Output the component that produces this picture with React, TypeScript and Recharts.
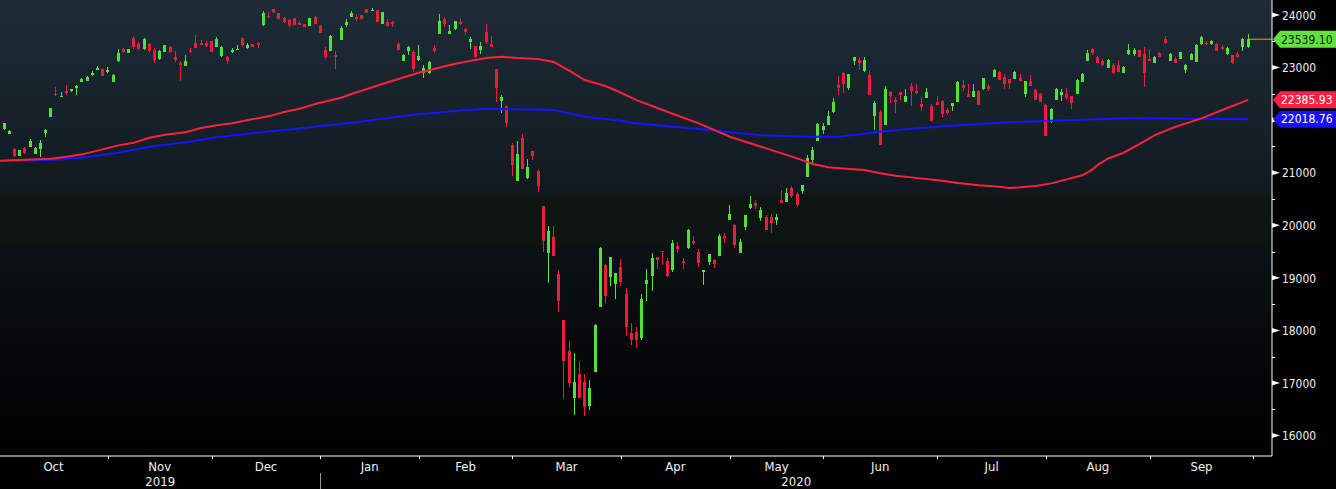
import React from 'react'
import { ComposedChart, Bar, Line, XAxis, YAxis, CartesianGrid, ReferenceLine } from 'recharts'

// Nikkei 225 daily candles, 30 Sep 2019 .. 29 Sep 2020 (index = trading day)
const open = [
  21812, 21831, 21742, 21444, 21323, 21476, 21495, 21361, 21456, 21755, 22065, 22500, 22452, 22560, 22547, 22624, 22731, 22744, 22885, 22960,
  22966, 22935, 22731, 23125, 23347, 23283, 23569, 23448, 23347, 23442, 23334, 23156, 23302, 23391, 23194, 23093, 23036, 23321, 23474, 23474,
  23474, 23505, 23397, 23220, 23201, 23316, 23355, 23556, 23378, 23442, 23467, 23810, 23987, 24108, 24032, 23937, 23905, 23943, 23846, 23829,
  23797, 23956, 23791, 23334, 23321, 23239, 23524, 23803, 23968, 23956, 23994, 24114, 24090, 24095, 23835, 23867, 23873, 23448, 23125, 23315,
  23302, 23144, 22903, 22890, 23378, 23645, 23918, 23645, 23727, 23867, 23734, 23486, 23410, 23334, 23677, 23448, 22972, 22370, 22268, 21533,
  20848, 21659, 20898, 21412, 21038, 20365, 19477, 19769, 19071, 18196, 17606, 16718, 17169, 17016, 16566, 17213, 18450, 19243, 19021, 18887,
  19205, 18697, 17949, 17968, 17853, 18887, 19033, 19395, 19512, 19319, 19147, 19604, 19319, 19566, 19699, 19490, 19110, 19300, 19338, 19414,
  19794, 20099, 20004, 19471, 19966, 20327, 20422, 20137, 20156, 20156, 20099, 20480, 20442, 20708, 20594, 20651, 20924, 21241, 21609, 21812,
  21907, 22154, 22668, 22896, 22611, 23125, 23144, 22934, 22858, 22078, 22154, 21907, 22535, 22383, 22535, 22344, 22649, 22554, 22306, 22421,
  22268, 22344, 22363, 22192, 22268, 22344, 22668, 22497, 22440, 22554, 22592, 22649, 22820, 22915, 22820, 22782, 22782, 22801, 22497, 22744,
  22573, 22497, 22287, 21964, 22383, 22478, 22497, 22459, 22497, 22731, 23125, 23347, 23207, 23118, 22998, 23042, 23042, 22903, 23252, 23252,
  23334, 23252, 23156, 23093, 23283, 23543, 23131, 23156, 23169, 22954, 23144, 23112, 23442, 23474, 23442, 23442, 23397, 23252, 23239, 23258,
  23397, 23397,
]
const high = [
  21830, 21950, 21810, 21463, 21440, 21485, 21640, 21485, 21621, 21825, 22240, 22624, 22535, 22668, 22595, 22668, 22801, 22835, 22928, 23030,
  22975, 23011, 22877, 23347, 23366, 23355, 23600, 23480, 23556, 23467, 23366, 23334, 23430, 23410, 23315, 23125, 23239, 23366, 23619, 23518,
  23505, 23512, 23581, 23405, 23226, 23366, 23423, 23569, 23461, 23455, 23486, 24076, 24051, 24121, 24040, 23962, 23918, 23950, 23879, 23835,
  23945, 23975, 23800, 23385, 23610, 23315, 23791, 23924, 24076, 24013, 24000, 24120, 24133, 24102, 24064, 23918, 23892, 23486, 23258, 23410,
  23334, 23429, 23049, 23131, 23429, 24019, 23956, 23810, 23886, 23918, 23753, 23588, 23417, 23486, 23829, 23600, 22980, 22478, 22287, 21558,
  21602, 21735, 21260, 21420, 21063, 20372, 19985, 19985, 19147, 18205, 17796, 17568, 17416, 17169, 17054, 18120, 19585, 19262, 19402, 19097,
  19357, 18805, 18139, 18057, 18691, 19166, 19471, 19405, 19520, 19376, 19718, 19680, 19376, 19928, 19794, 19547, 19155, 19460, 19357, 19832,
  19852, 20384, 20023, 19737, 20200, 20556, 20480, 20346, 20194, 20213, 20213, 20670, 20708, 20746, 20632, 20772, 21336, 21488, 21945, 21945,
  22173, 22421, 22839, 22915, 22884, 23208, 23201, 23201, 22953, 22363, 22192, 22649, 22554, 22440, 22542, 22592, 22706, 22687, 22440, 22611,
  22306, 22459, 22383, 22230, 22332, 22744, 22763, 22687, 22687, 22573, 22808, 22687, 22972, 22934, 22877, 22790, 22934, 22877, 22751, 22858,
  22592, 22516, 22306, 22230, 22611, 22592, 22611, 22466, 22782, 22903, 23334, 23366, 23214, 23156, 23163, 23093, 23144, 23024, 23448, 23366,
  23341, 23397, 23359, 23220, 23290, 23607, 23271, 23194, 23302, 23068, 23271, 23448, 23607, 23505, 23524, 23461, 23423, 23397, 23246, 23290,
  23556, 23638,
]
const low = [
  21745, 21820, 21735, 21304, 21315, 21365, 21490, 21355, 21304, 21685, 22055, 22465, 22446, 22484, 22540, 22484, 22725, 22738, 22846, 22955,
  22840, 22903, 22725, 23106, 23271, 23278, 23347, 23340, 23340, 23296, 23093, 23144, 23295, 23271, 23112, 22750, 23030, 23283, 23366, 23423,
  23391, 23295, 23390, 23207, 23074, 23283, 23353, 23385, 23359, 23385, 23378, 23791, 23949, 24032, 23925, 23848, 23778, 23810, 23803, 23772,
  23790, 23830, 23656, 23163, 23315, 22972, 23515, 23778, 23960, 23892, 23925, 24038, 24085, 23866, 23828, 23785, 23778, 23328, 23118, 23239,
  22922, 23131, 22808, 22883, 23271, 23638, 23778, 23638, 23720, 23803, 23619, 23353, 23175, 23258, 23448, 23385, 22351, 22142, 21875, 20943,
  20840, 21068, 20879, 21241, 20632, 19496, 18907, 19406, 18348, 16693, 16927, 16388, 16710, 16375, 16483, 17205, 18442, 18526, 18843, 18602,
  18849, 17898, 17727, 17670, 17820, 18564, 18754, 19166, 19243, 19025, 19110, 19471, 19166, 19558, 19623, 19205, 18862, 19243, 19186, 19406,
  19661, 20092, 19566, 19464, 19909, 20308, 20308, 20080, 19902, 19852, 20004, 20415, 20435, 20518, 20346, 20594, 20917, 21165, 21602, 21735,
  21900, 22135, 22478, 22516, 22573, 23048, 22953, 22915, 22470, 21812, 21518, 21900, 22325, 22135, 22383, 22337, 22268, 22497, 22173, 22414,
  21976, 22280, 22059, 22097, 22173, 22337, 22554, 22433, 22433, 22280, 22573, 22554, 22813, 22756, 22592, 22592, 22775, 22737, 22440, 22642,
  22376, 22337, 21690, 21945, 22376, 22363, 22383, 22211, 22490, 22724, 23118, 23239, 23086, 23035, 22991, 22883, 22908, 22890, 23245, 23226,
  23200, 22624, 23130, 23086, 23200, 23454, 23124, 23086, 23162, 22903, 23137, 23105, 23435, 23429, 23435, 23308, 23340, 23245, 23061, 23187,
  23315, 23366,
]
const close = [
  21761, 21939, 21799, 21323, 21431, 21374, 21609, 21476, 21571, 21818, 22230, 22480, 22462, 22509, 22585, 22649, 22776, 22827, 22895, 22998,
  22846, 22945, 22852, 23283, 23290, 23347, 23397, 23347, 23537, 23315, 23144, 23315, 23423, 23290, 23144, 23049, 23125, 23302, 23378, 23435,
  23410, 23302, 23550, 23397, 23125, 23326, 23362, 23435, 23423, 23397, 23435, 24032, 23956, 24063, 23930, 23867, 23810, 23816, 23836, 23778,
  23937, 23835, 23664, 23207, 23600, 23201, 23759, 23873, 24044, 23930, 23930, 24044, 24100, 23873, 24057, 23791, 23829, 23334, 23239, 23391,
  22966, 23220, 22985, 23106, 23315, 23879, 23822, 23689, 23879, 23822, 23677, 23543, 23207, 23410, 23480, 23391, 22617, 22440, 21951, 21152,
  21355, 21076, 21108, 21323, 20746, 19699, 19890, 19414, 18558, 17422, 17004, 17016, 16718, 16547, 16902, 18101, 19566, 18659, 19395, 19090,
  18919, 18069, 17815, 17815, 18596, 18957, 19376, 19338, 19500, 19033, 19661, 19547, 19281, 19909, 19661, 19281, 19147, 19452, 19262, 19794,
  19756, 20213, 19623, 19680, 20194, 20403, 20365, 20289, 19909, 20042, 20156, 20422, 20613, 20556, 20384, 20765, 21279, 21431, 21926, 21888,
  22078, 22344, 22611, 22687, 22877, 23201, 23087, 23144, 22478, 22325, 21526, 22592, 22459, 22344, 22478, 22459, 22554, 22516, 22249, 22535,
  21983, 22287, 22116, 22135, 22325, 22725, 22611, 22440, 22554, 22287, 22801, 22592, 22953, 22763, 22687, 22706, 22915, 22744, 22744, 22649,
  22383, 22344, 21697, 22211, 22592, 22535, 22421, 22325, 22763, 22877, 23271, 23271, 23093, 23042, 23144, 22890, 22915, 23017, 23334, 23334,
  23207, 22890, 23137, 23207, 23207, 23461, 23252, 23093, 23290, 23049, 23252, 23429, 23588, 23455, 23499, 23315, 23347, 23378, 23080, 23194,
  23537, 23539.1,
]

// moving averages: [trading day, value]
const maRedPts = [
  [0, 21227], [10, 21265], [13, 21303], [16, 21349], [20, 21444], [23, 21520], [26, 21570], [29, 21665], [32, 21722], [36, 21768],
  [39, 21850], [42, 21901], [45, 21939], [48, 22002], [52, 22072], [55, 22154], [58, 22217], [61, 22306], [66, 22426], [68, 22497],
  [75, 22719], [81, 22902], [88, 23073], [94, 23182], [97, 23206], [100, 23182], [104, 23163], [107, 23106], [110, 22940], [113, 22763],
  [117, 22649], [120, 22521], [123, 22380], [128, 22192], [135, 21939], [141, 21684], [147, 21494], [154, 21273], [157, 21165], [160, 21102],
  [164, 21069], [167, 21050], [170, 20988], [173, 20942], [176, 20911], [182, 20847], [185, 20803], [189, 20759], [193, 20733], [195, 20708],
  [197, 20721], [200, 20746], [203, 20797], [206, 20873], [209, 20950], [211, 21064], [212, 21150], [214, 21270], [217, 21380], [220, 21545],
  [223, 21716], [227, 21874], [232, 22034], [236, 22192], [241, 22385.93],
]
const maBluePts = [
  [0, 21227], [10, 21241], [16, 21284], [23, 21380], [29, 21494], [36, 21578], [42, 21673], [48, 21741], [55, 21812], [61, 21874],
  [68, 21950], [75, 22040], [81, 22110], [88, 22173], [94, 22217], [100, 22205], [107, 22192], [113, 22065], [120, 21989], [122, 21950],
  [128, 21893], [135, 21831], [141, 21768], [147, 21711], [154, 21688], [157, 21684], [162, 21684], [170, 21779], [176, 21836], [183, 21888],
  [189, 21926], [196, 21964], [203, 21989], [212, 22015], [220, 22040], [228, 22027], [241, 22018.76],
]

const monthNames = ['Oct', 'Nov', 'Dec', 'Jan', 'Feb', 'Mar', 'Apr', 'May', 'Jun', 'Jul', 'Aug', 'Sep']
// index of the last trading day before each month starts (Sep 30 2019 .. Sep 30 2020)
const monthEnds = [0, 21, 41, 62, 81, 99, 120, 141, 159, 181, 202, 222, 242]
const years = ['2019', '2020']
const yearEnd = 62

const lastClose = 23539.1
const maRedLast = 22385.93
const maBlueLast = 22018.76

const yMajor = [16000, 17000, 18000, 19000, 20000, 21000, 22000, 23000, 24000]
const yMinor = [16500, 17500, 18500, 19500, 20500, 21500, 22500, 23500]

const X_MIN = 0.18
const X_MAX = 245.6
const Y_MIN = 15611
const Y_MAX = 24285

const GREEN = '#52e13a'
const RED = '#ee1c3c'
const FONT = "'Liberation Sans Narrow', 'DejaVu Sans Condensed', 'Liberation Sans', sans-serif"

const redMap = new Map(maRedPts.map((p) => [p[0], p[1]]))
const blueMap = new Map(maBluePts.map((p) => [p[0], p[1]]))

const rows = open.map((o, i) => ({
  i,
  o,
  h: high[i],
  l: low[i],
  c: close[i],
  red: redMap.get(i),
  blue: blueMap.get(i),
}))

// x axis: month boundary ticks, month labels, year labels
const xTicks: number[] = []
const xInfo = new Map<number, { kind: string; label?: string; divider?: boolean }>()
monthEnds.forEach((e, k) => {
  if (e > X_MIN) {
    xTicks.push(e)
    xInfo.set(e, { kind: 'end', divider: e === yearEnd })
  }
  if (k < monthNames.length) {
    const mid = (e + monthEnds[k + 1]) / 2
    xTicks.push(mid)
    xInfo.set(mid, { kind: 'month', label: monthNames[k] })
  }
})
const yearBounds = [X_MIN, yearEnd, X_MAX]
years.forEach((yr, k) => {
  const mid = (yearBounds[k] + yearBounds[k + 1]) / 2
  xTicks.push(mid)
  xInfo.set(mid, { kind: 'year', label: yr })
})

const tags = [
  { v: lastClose, fill: '#62e03d', text: '#0b1a08' },
  { v: maRedLast, fill: '#ff1f47', text: '#ffffff' },
  { v: maBlueLast, fill: '#1a10ff', text: '#ffffff' },
]
const yTicks = [...yMajor, ...yMinor, ...tags.map((t) => t.v)]

function Candle(props: any) {
  const { x, y, width, height, payload } = props
  if (!payload || !isFinite(y) || !isFinite(height)) return null
  const { o, h, l, c } = payload
  const top = Math.min(y, y + height)
  const hh = Math.abs(height)
  const ppu = hh / (h - l)
  const cx = Math.floor(x + width / 2)
  const bTop = top + (h - Math.max(o, c)) * ppu
  const bBot = top + (h - Math.min(o, c)) * ppu
  const color = c >= o ? GREEN : RED
  return (
    <g shapeRendering="crispEdges">
      <rect x={cx} y={top} width={1} height={Math.max(1, hh)} fill={color} />
      <rect x={cx - 1} y={bTop} width={3} height={Math.max(1.5, bBot - bTop)} fill={color} />
    </g>
  )
}

function XTick(props: any) {
  const { x, y, payload } = props
  const t = xInfo.get(payload.value)
  if (!t) return null
  const px = Math.round(x) + 0.5
  if (t.kind === 'end') {
    return (
      <g>
        <line x1={px} x2={px} y1={y} y2={y + 3} stroke="#ffffff" />
        {t.divider && <line x1={px} x2={px} y1={y + 17} y2={y + 34} stroke="#9a9a9a" />}
      </g>
    )
  }
  return (
    <text
      x={x}
      y={t.kind === 'month' ? y + 10 : y + 25}
      dy="0.35em"
      textAnchor="middle"
      fill="#f0f0f0"
      fontSize={13}
      fontFamily={FONT}
    >
      {t.label}
    </text>
  )
}

function YTick(props: any) {
  const { x, y, payload } = props
  const v = payload.value
  const tag = tags.find((t) => t.v === v)
  if (tag) {
    const r = x + 64
    return (
      <g>
        <polygon
          points={`${x + 1},${y} ${x + 8},${y - 8.5} ${r},${y - 8.5} ${r},${y + 8.5} ${x + 8},${y + 8.5}`}
          fill={tag.fill}
        />
        <text x={x + 9} y={y} dy="0.36em" fill={tag.text} fontSize={12} fontFamily={FONT}>
          {v.toFixed(2)}
        </text>
      </g>
    )
  }
  const py = Math.round(y) + 0.5
  if (yMinor.includes(v)) {
    return <line x1={x} x2={x + 3} y1={py} y2={py} stroke="#ffffff" />
  }
  // the price tags sit on top of any label next to them
  const hidden = tags.some((t) => Math.abs(t.v - v) < 200)
  return (
    <g>
      <polygon points={`${x},${y - 2.5} ${x + 8},${y} ${x},${y + 2.5}`} fill="#ffffff" />
      {!hidden && (
        <text
          x={x + 10}
          y={y}
          dy="0.36em"
          fill="#f0f0f0"
          fontSize={13}
          fontFamily={FONT}
          textLength={34}
          lengthAdjust="spacingAndGlyphs"
        >
          {v}
        </text>
      )}
    </g>
  )
}

export default function App() {
  return (
    <div
      style={{
        position: 'absolute',
        left: 0,
        top: 0,
        width: 1336,
        height: 489,
        background: '#000000',
        fontFamily: FONT,
      }}
    >
      <svg width={0} height={0} style={{ position: 'absolute' }}>
        <defs>
          <linearGradient id="bgGrad" x1="0" y1="0" x2="0" y2="1">
            <stop offset="0" stopColor="#1d2c37" />
            <stop offset="0.2" stopColor="#18242c" />
            <stop offset="0.42" stopColor="#111920" />
            <stop offset="0.435" stopColor="#0f1612" />
            <stop offset="0.535" stopColor="#0e1412" />
            <stop offset="0.55" stopColor="#0b1114" />
            <stop offset="0.7" stopColor="#080c0f" />
            <stop offset="0.85" stopColor="#030506" />
            <stop offset="1" stopColor="#000000" />
          </linearGradient>
        </defs>
      </svg>
      <ComposedChart width={1336} height={489} data={rows} margin={{ top: 0, right: 0, bottom: 0, left: 0 }}>
        <CartesianGrid horizontal={false} vertical={false} fill="url(#bgGrad)" stroke="none" />
        <XAxis
          dataKey="i"
          type="number"
          domain={[X_MIN, X_MAX]}
          allowDataOverflow
          ticks={xTicks}
          interval={0}
          height={33}
          tickSize={0}
          tickMargin={0}
          tickLine={false}
          axisLine={{ stroke: '#ffffff' }}
          tick={<XTick />}
        />
        <YAxis
          orientation="right"
          type="number"
          domain={[Y_MIN, Y_MAX]}
          allowDataOverflow
          ticks={yTicks}
          interval={0}
          width={64}
          tickSize={0}
          tickMargin={0}
          tickLine={false}
          axisLine={{ stroke: '#ffffff' }}
          tick={<YTick />}
        />
        <Bar
          dataKey={(d: any) => [d.l, d.h]}
          barSize={3}
          shape={<Candle />}
          isAnimationActive={false}
        />
        <Line
          dataKey="blue"
          stroke="#1414ff"
          strokeWidth={2}
          dot={false}
          connectNulls
          isAnimationActive={false}
        />
        <Line
          dataKey="red"
          stroke="#ff2040"
          strokeWidth={2}
          dot={false}
          connectNulls
          isAnimationActive={false}
        />
        <ReferenceLine
          segment={[
            { x: open.length - 1, y: lastClose },
            { x: X_MAX, y: lastClose },
          ]}
          stroke="#f7941d"
          strokeWidth={1}
        />
      </ComposedChart>
    </div>
  )
}
